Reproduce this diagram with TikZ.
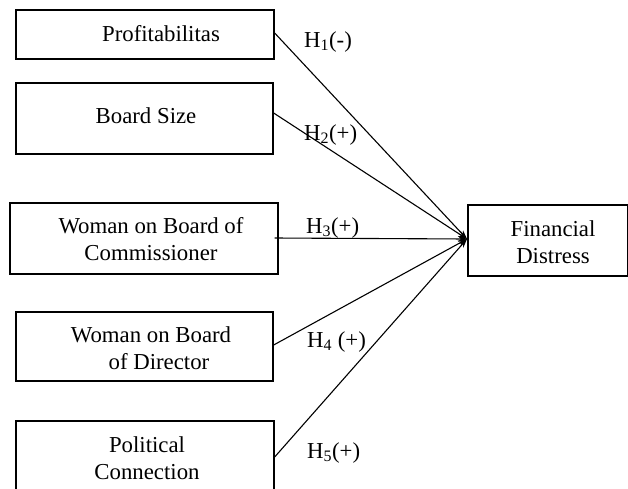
\documentclass[tikz,border=0pt]{standalone}
\usepackage{fontspec}
\setmainfont{Liberation Serif}
\usetikzlibrary{arrows.meta}
\begin{document}
\begin{tikzpicture}[x=1pt,y=-1pt,
  box/.style={draw, line width=1.3pt, rectangle, inner sep=0pt},
  txt/.style={align=center, inner sep=0pt, font=\fontsize{22.8}{27.5}\selectfont},
  hyp/.style={anchor=west, inner sep=0pt, font=\fontsize{22.8}{27}\selectfont},
  link/.style={line width=1.1pt, -{Stealth[length=9pt,width=6pt]}}]
\useasboundingbox (0,0) rectangle (628,488);
% boxes
\node[box, minimum width=258pt, minimum height=49pt] (b1) at (145,34.5) {};
\node[box, minimum width=257pt, minimum height=71pt] (b2) at (144.5,118.5) {};
\node[box, minimum width=268pt, minimum height=71pt] (b3) at (144,238.5) {};
\node[box, minimum width=257pt, minimum height=69pt] (b4) at (144.5,346.5) {};
\node[box, minimum width=258pt, minimum height=70pt] (b5) at (145,456) {};
\node[box, minimum width=160pt, minimum height=71pt] (b6) at (548,240.5) {};
% texts
\node[txt] (t1) at (161,34) {Profitabilitas};
\node[txt] (t2) at (146,116) {Board Size};
\node[txt] (t3) at (151,239) {Woman on Board of\\Commissioner};
\node[txt] (t4) at (151,348) {Woman on Board\\\hspace*{16pt}of Director};
\node[txt] (t5) at (147,458) {Political\\Connection};
\node[txt] (t6) at (553,242) {Financial\\Distress};
% connectors
\coordinate (tip) at (467,239);
\draw[link] (b1.east |- 0,33) -- (tip);
\draw[link] (b2.east |- 0,113) -- (tip);
\draw[link] ([xshift=-4pt]b3.east |- 0,238) -- (tip);
\draw[link] (b4.east |- 0,345) -- (tip);
\draw[link] (b5.east |- 0,457) -- (tip);
% hypothesis labels
\node[hyp] (h1) at (304,42) {H\textsubscript{1}(-)};
\node[hyp] (h2) at (304,135) {H\textsubscript{2}(+)};
\node[hyp] (h3) at (306,228) {H\textsubscript{3}(+)};
\node[hyp] (h4) at (307,342) {H\textsubscript{4} (+)};
\node[hyp] (h5) at (307,453) {H\textsubscript{5}(+)};
\end{tikzpicture}
\end{document}
